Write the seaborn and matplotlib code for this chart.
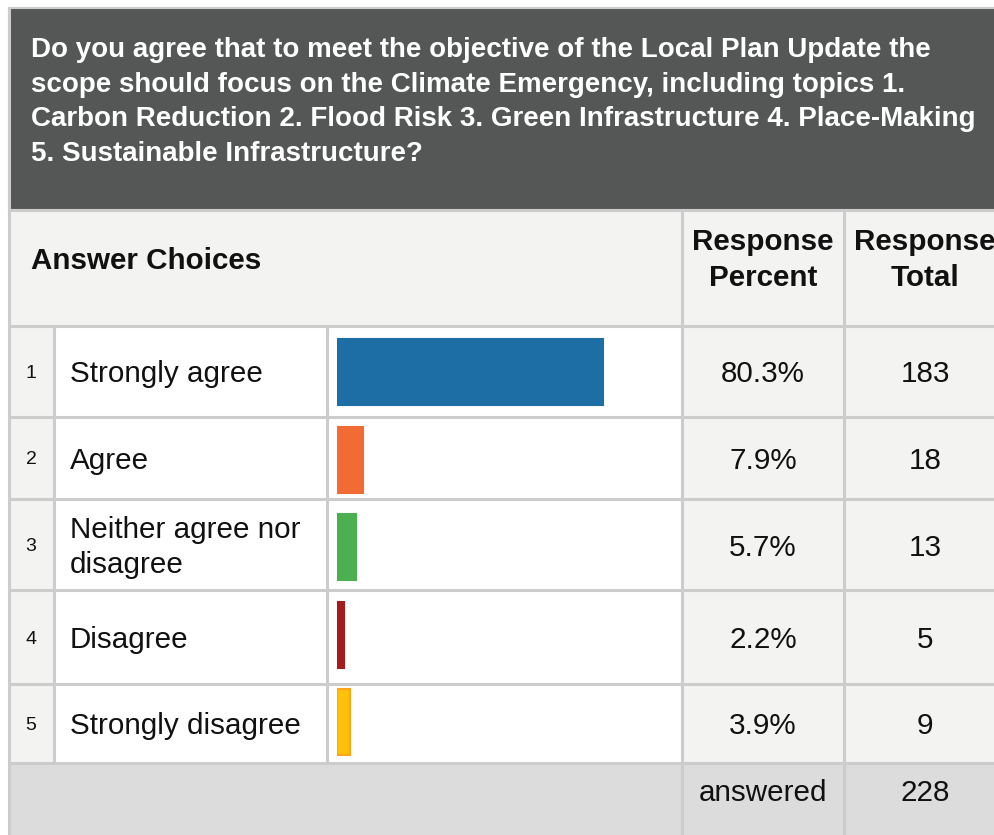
import matplotlib
matplotlib.use("Agg")
import matplotlib.pyplot as plt
import matplotlib.patches as mpatches
import seaborn as sns

sns.set_style("white")
plt.rcParams["font.family"] = ["Liberation Sans", "DejaVu Sans"]

# Survey data
question = ("Do you agree that to meet the objective of the Local Plan Update the\n"
            "scope should focus on the Climate Emergency, including topics 1.\n"
            "Carbon Reduction 2. Flood Risk 3. Green Infrastructure 4. Place-Making\n"
            "5. Sustainable Infrastructure?")
row_numbers = ["1", "2", "3", "4", "5"]
answers = ["Strongly agree", "Agree", "Neither agree nor\ndisagree", "Disagree", "Strongly disagree"]
percents = [80.3, 7.9, 5.7, 2.2, 3.9]
totals = [183, 18, 13, 5, 9]
answered = 228
bar_colors = ["#1c6ea4", "#f26b35", "#4caf50", "#a51c1f", "#ffc107"]
bar_edges = ["#1c6ea4", "#f26b35", "#4caf50", "#a51c1f", "#ffa31a"]

W, H = 995, 835
fig = plt.figure(figsize=(W / 100, H / 100), dpi=100)
ax = fig.add_axes([0, 0, 1, 1])
ax.set_xlim(0, W)
ax.set_ylim(H, 0)
ax.axis("off")

grid = "#cccccc"
light = "#f3f3f2"
txt = "#111111"
fs = 21.3
dy = 3  # small downward nudge so text sits like the html cells

# table layout (pixels)
row_edges = [326, 417, 499, 590, 684, 763]
col_x = [9, 54, 327, 682, 844, W + 20]

# dark question header
ax.add_patch(mpatches.Rectangle((9, 8), W, 202, facecolor="#555757", edgecolor=grid, lw=1.5))
ax.text(31, 99 + dy, question, color="white", fontsize=20, fontweight="bold",
        va="center", ha="left", linespacing=1.43)

# column header row
ax.add_patch(mpatches.Rectangle((9, 210), W, 116, facecolor=light, edgecolor="none"))
ax.text(31, 258 + dy, "Answer Choices", fontsize=fs, fontweight="bold", va="center", color=txt)
ax.text(763, 257 + dy, "Response\nPercent", fontsize=fs, fontweight="bold", va="center",
        ha="center", linespacing=1.33, color=txt)
ax.text(925, 257 + dy, "Response\nTotal", fontsize=fs, fontweight="bold", va="center",
        ha="center", linespacing=1.33, color=txt)

# body rows
for i in range(len(answers)):
    top, bot = row_edges[i], row_edges[i + 1]
    yc = (top + bot) / 2 + dy
    for j, fc in enumerate([light, "white", "white", light, light]):
        ax.add_patch(mpatches.Rectangle((col_x[j], top), col_x[j + 1] - col_x[j], bot - top,
                                        facecolor=fc, edgecolor="none"))
    ax.text(31, yc - 1, row_numbers[i], fontsize=14, ha="center", va="center", color=txt)
    ax.text(70, yc, answers[i], fontsize=fs, ha="left", va="center", color=txt,
            linespacing=1.3)
    ax.text(763, yc, f"{percents[i]:.1f}%", fontsize=fs, ha="center", va="center", color=txt)
    ax.text(925, yc, str(totals[i]), fontsize=fs, ha="center", va="center", color=txt)

# footer
ax.add_patch(mpatches.Rectangle((9, 763), W, 80, facecolor="#dcdcdc", edgecolor="none"))
ax.text(763, 790 + dy, "answered", fontsize=fs, ha="center", va="center", color=txt)
ax.text(925, 790 + dy, str(answered), fontsize=fs, ha="center", va="center", color=txt)

# grid lines
for y in [210] + row_edges:
    ax.plot([9, W], [y, y], color=grid, lw=2.2, solid_capstyle="butt")
ax.plot([9, 9], [8, H], color=grid, lw=2.2)
for x in col_x[1:3]:
    ax.plot([x, x], [row_edges[0], row_edges[-1]], color=grid, lw=2.2)
for x in col_x[3:5]:
    ax.plot([x, x], [210, H], color=grid, lw=2.2)

# bars drawn on an inset axes aligned with the bar column
bx = fig.add_axes([337 / W, 1 - 766 / H, 331 / W, 437.5 / H])
sns.barplot(x=percents, y=answers, hue=answers, palette=bar_colors, width=0.75,
            legend=False, ax=bx, linewidth=1.5, saturation=1)
for patch, ec in zip(bx.patches, bar_edges):
    patch.set_edgecolor(ec)
bx.set_xlim(0, 100)
bx.set_ylim(len(answers) - 0.5, -0.5)
bx.axis("off")
bx.patch.set_alpha(0)

fig.savefig("out.png", dpi=100)
